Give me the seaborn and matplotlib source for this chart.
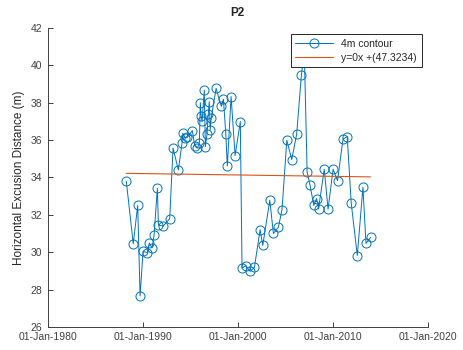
import pandas as pd
import seaborn as sns
import matplotlib.pyplot as plt
import matplotlib.dates as mdates

# survey dates (decimal years) and 4m contour excursion distance (m)
years = [1988.27, 1989.00, 1989.47, 1989.72, 1990.03, 1990.49, 1990.70, 1990.98, 1991.19, 1991.54,
         1991.65, 1992.17, 1992.84, 1993.19, 1993.75, 1994.14, 1994.21, 1994.50, 1994.70, 1995.22,
         1995.47, 1995.75, 1995.96, 1996.06, 1996.15, 1996.25, 1996.48, 1996.59, 1996.77, 1996.90,
         1997.00, 1997.10, 1997.20, 1997.72, 1998.27, 1998.49, 1998.74, 1998.90, 1999.30, 1999.72,
         2000.27, 2000.45, 2000.84, 2001.30, 2001.75, 2002.35, 2002.63, 2003.37, 2003.75, 2004.28,
         2004.66, 2005.16, 2005.68, 2006.20, 2006.70, 2007.00, 2007.30, 2007.60, 2008.00, 2008.30,
         2008.50, 2009.10, 2009.50, 2010.03, 2010.50, 2011.07, 2011.52, 2011.94, 2012.58, 2013.17,
         2013.49, 2013.98]
distance = [33.80, 30.45, 32.50, 27.65, 30.04, 29.98, 30.49, 30.22, 30.91, 33.41,
            31.45, 31.40, 31.80, 35.57, 34.40, 35.87, 36.37, 36.10, 36.15, 36.51,
            35.70, 35.57, 35.87, 38.00, 37.30, 37.00, 38.67, 35.65, 36.33, 37.40,
            38.06, 36.55, 37.17, 38.77, 37.80, 38.19, 36.33, 34.62, 38.33, 35.17,
            36.99, 29.15, 29.27, 28.97, 29.18, 31.20, 30.36, 32.78, 31.00, 31.34,
            32.28, 35.99, 34.96, 36.32, 39.50, 40.80, 34.28, 33.60, 32.50, 32.87,
            32.32, 34.44, 32.30, 34.44, 33.82, 36.05, 36.19, 32.62, 29.82, 33.48,
            30.47, 30.79]

# linear fit line end points
trend_years = [1988.27, 2013.98]
trend_values = [34.22, 34.03]


def to_date(y):
    return pd.Timestamp(int(y), 1, 1) + pd.Timedelta(days=(y - int(y)) * 365.25)


df = pd.DataFrame({"date": [to_date(y) for y in years], "dist": distance})
trend = pd.DataFrame({"date": [to_date(y) for y in trend_years], "dist": trend_values})

sns.set_style("ticks")
plt.rcParams["font.family"] = ["Liberation Sans", "DejaVu Sans"]

fig = plt.figure(figsize=(4.63, 3.5), dpi=100)
ax = fig.add_axes([0.103, 0.066, 0.821, 0.854])

sns.lineplot(data=df, x="date", y="dist", ax=ax, color="#0072BD", lw=0.7,
             marker="o", markersize=6.5, markerfacecolor="none",
             markeredgecolor="#0072BD", markeredgewidth=0.7, label="4m contour")
sns.lineplot(data=trend, x="date", y="dist", ax=ax, color="#D95319", lw=0.8,
             label="y=0x +(47.3234)")

ax.set_xlim(pd.Timestamp(1980, 1, 1), pd.Timestamp(2020, 1, 1))
ax.set_ylim(26, 42)
ax.set_yticks(range(26, 43, 2))
ax.xaxis.set_major_locator(mdates.YearLocator(10))
ax.xaxis.set_major_formatter(mdates.DateFormatter("%d-%b-%Y"))

gray = "#404040"
sns.despine(ax=ax)
for s in ["left", "bottom"]:
    ax.spines[s].set_color(gray)
    ax.spines[s].set_linewidth(0.7)
ax.tick_params(direction="in", length=3.5, width=0.7, colors=gray, labelsize=7.5, pad=4)

ax.set_xlabel("")
ax.set_ylabel("Horizontal Excusion Distance (m)", fontsize=8.5, color="#262626", labelpad=4)
ax.set_title("P2", fontsize=8.5, fontweight="bold", pad=9)

leg = ax.legend(loc="upper right", fontsize=7.5, frameon=True, fancybox=False,
                edgecolor="#262626", framealpha=1, borderaxespad=0.6,
                handlelength=3.6, borderpad=0.45, labelspacing=0.35)
leg.get_frame().set_linewidth(0.7)
leg.set_zorder(10)

fig.savefig("out.png", dpi=100)
